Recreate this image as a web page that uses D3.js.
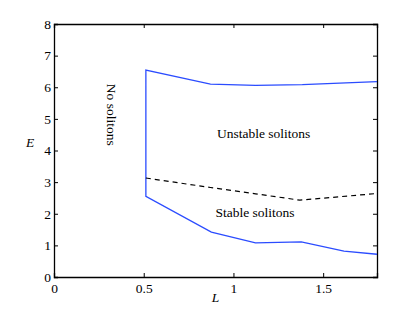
<!DOCTYPE html>
<html>
<head>
<meta charset="utf-8">
<script src="https://cdn.jsdelivr.net/npm/d3@7"></script>
</head>
<body style="margin:0;background:#fff">
<div id="chart"></div>
<script>
// ---- data ----
const upperL = [0.512, 0.872, 1.123, 1.384, 1.8];
const upperE = [6.54, 6.10, 6.06, 6.08, 6.18];
const lowerL = [0.512, 0.877, 1.123, 1.378, 1.616, 1.8];
const lowerE = [2.55, 1.42, 1.08, 1.11, 0.82, 0.72];
const dashL = [0.512, 0.872, 1.123, 1.37, 1.8];
const dashE = [3.13, 2.83, 2.63, 2.43, 2.64];
const xTicks = [0, 0.5, 1, 1.5];
const yTicks = [0, 1, 2, 3, 4, 5, 6, 7, 8];

const W = 415, H = 312;
const margin = { top: 24, right: 38, bottom: 35, left: 54 };
const innerW = W - margin.left - margin.right;
const innerH = H - margin.top - margin.bottom;
const FONT = "'Liberation Serif', 'Times New Roman', serif";
const FS = '13.5px';

const svg = d3.select('#chart').append('svg').attr('width', W).attr('height', H);
const g = svg.append('g').attr('transform', `translate(${margin.left},${margin.top})`);

const x = d3.scaleLinear().domain([0, 1.8]).range([0, innerW]);
const y = d3.scaleLinear().domain([0, 8]).range([innerH, 0]);

const fmt = d => String(d);
const tickLen = 4;

// axes: ticks pointing inward, mirrored on top/right
g.append('g').attr('transform', `translate(0,${innerH})`)
  .call(d3.axisBottom(x).tickValues(xTicks).tickSize(-tickLen).tickPadding(6).tickFormat(fmt));
g.append('g')
  .call(d3.axisTop(x).tickValues(xTicks).tickSize(-tickLen).tickFormat(''));
g.append('g')
  .call(d3.axisLeft(y).tickValues(yTicks).tickSize(-tickLen).tickPadding(3).tickFormat(fmt));
g.append('g').attr('transform', `translate(${innerW},0)`)
  .call(d3.axisRight(y).tickValues(yTicks).tickSize(-tickLen).tickFormat(''));

g.selectAll('g').attr('font-family', FONT).attr('font-size', 13);
g.selectAll('.domain').attr('stroke', '#000').attr('stroke-width', 1.3);
g.selectAll('.tick line').attr('stroke', '#000');
g.selectAll('.tick text').style('font-family', FONT).style('font-size', FS);

// lines
const line = d3.line().x(d => x(d[0])).y(d => y(d[1]));
const upper = upperL.map((l, i) => [l, upperE[i]]);
const lower = lowerL.map((l, i) => [l, lowerE[i]]);
const dash = dashL.map((l, i) => [l, dashE[i]]);
const blue = '#2b4cff';

g.append('path').datum(upper.slice().reverse().concat(lower))
  .attr('d', line).attr('fill', 'none').attr('stroke', blue).attr('stroke-width', 1.3);
g.append('path').datum(dash)
  .attr('d', line).attr('fill', 'none').attr('stroke', '#000').attr('stroke-width', 1.2)
  .attr('stroke-dasharray', '5,4');

// region labels
function label(sel) {
  return sel.style('font-family', FONT).style('font-size', FS).attr('fill', '#000');
}
label(g.append('text')).attr('x', x(1.168)).attr('y', y(4.5)).attr('text-anchor', 'middle')
  .attr('dominant-baseline', 'middle').text('Unstable solitons');
label(g.append('text')).attr('x', x(1.12)).attr('y', y(1.98)).attr('text-anchor', 'middle')
  .attr('dominant-baseline', 'middle').text('Stable solitons');
label(g.append('text'))
  .attr('transform', `translate(${x(0.313)},${y(5.13)}) rotate(90)`)
  .attr('text-anchor', 'middle').attr('dominant-baseline', 'middle')
  .text('No solitons');

// axis titles
label(svg.append('text')).attr('x', margin.left + x(0.9)).attr('y', 302).attr('text-anchor', 'middle')
  .style('font-style', 'italic').text('L');
label(svg.append('text')).attr('x', 30).attr('y', 144).attr('text-anchor', 'middle')
  .attr('dominant-baseline', 'middle').style('font-style', 'italic').text('E');
</script>
</body>
</html>
